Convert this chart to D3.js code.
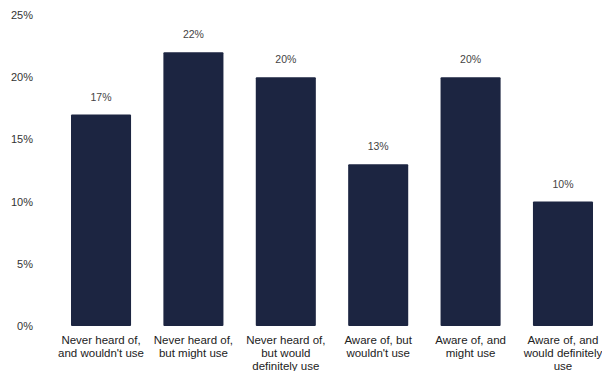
<!DOCTYPE html>
<html>
<head>
<meta charset="utf-8">
<script src="https://cdn.jsdelivr.net/npm/d3@7"></script>
<style>
  body { margin: 0; background: #fff; }
  text { font-family: "Liberation Sans", Arial, sans-serif; }
</style>
</head>
<body>
<div id="graphicContainer"></div>
<script>
const categories = [
  ["Never heard of,", "and wouldn't use"],
  ["Never heard of,", "but might use"],
  ["Never heard of,", "but would", "definitely use"],
  ["Aware of, but", "wouldn't use"],
  ["Aware of, and", "might use"],
  ["Aware of, and", "would definitely", "use"]
]
const values = [17, 22, 20, 13, 20, 10]
const yTicks = [0, 5, 10, 15, 20, 25]

const width = 602
const height = 371
const barColor = "#1c2541"

const svg = d3.select("#graphicContainer")
  .append("svg")
  .attr("width", width)
  .attr("height", height)

const x = d3.scaleBand()
  .domain(d3.range(categories.length))
  .range([71, 593])
  .paddingInner(0.35)
  .paddingOuter(0)

const y = d3.scaleLinear()
  .domain([0, 25])
  .range([326, 15])

const yAxis = d3.axisLeft(y)
  .tickValues(yTicks)
  .tickFormat(d => d + "%")
  .tickSize(0)
  .tickPadding(0)

const gy = svg.append("g")
  .attr("transform", "translate(33,0)")
  .call(yAxis)

gy.select(".domain").remove()
gy.selectAll("text")
  .style("font-size", "11px")
  .style("fill", "#333")
  .style("font-family", "'Liberation Sans', Arial, sans-serif")

svg.selectAll(".bar")
  .data(values)
  .enter()
  .append("rect")
  .attr("class", "bar")
  .attr("x", (d, i) => x(i))
  .attr("y", d => y(d))
  .attr("width", x.bandwidth())
  .attr("height", d => y(0) - y(d))
  .attr("rx", 1)
  .attr("fill", barColor)

svg.selectAll(".valueLabel")
  .data(values)
  .enter()
  .append("text")
  .attr("class", "valueLabel")
  .attr("x", (d, i) => x(i) + x.bandwidth() / 2)
  .attr("y", d => y(d) - 14)
  .attr("text-anchor", "middle")
  .style("font-size", "10.5px")
  .style("fill", "#444")
  .text(d => d + "%")

const catLabel = svg.selectAll(".catLabel")
  .data(categories)
  .enter()
  .append("text")
  .attr("class", "catLabel")
  .attr("text-anchor", "middle")
  .attr("x", (d, i) => x(i) + x.bandwidth() / 2)
  .attr("y", 344)
  .style("font-size", "11.5px")
  .style("fill", "#222")

catLabel.selectAll("tspan")
  .data(d => d)
  .enter()
  .append("tspan")
  .attr("x", function() { return d3.select(this.parentNode).attr("x") })
  .attr("dy", (d, i) => i == 0 ? 0 : 13.2)
  .text(d => d)
</script>
</body>
</html>
